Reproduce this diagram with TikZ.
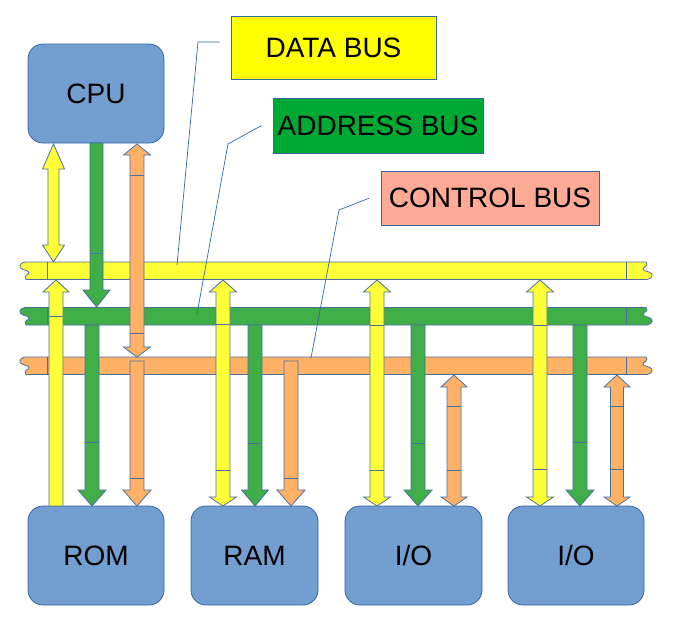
\documentclass[tikz,border=0pt]{standalone}
\usepackage{fontspec}
\setmainfont{Liberation Sans}
\definecolor{boxfill}{HTML}{729FCF}
\definecolor{boxedge}{HTML}{3465A4}
\definecolor{edge}{HTML}{4A6FA5}
\definecolor{ybus}{HTML}{FFFF38}
\definecolor{gbus}{HTML}{3FAE46}
\definecolor{obus}{HTML}{FFB166}
\definecolor{lblY}{HTML}{FFFF00}
\definecolor{lblG}{HTML}{00A933}
\definecolor{lblO}{HTML}{FFAA95}
\newcommand\bigtext{\fontsize{28}{32}\selectfont}
% single block arrow: colour, cx, shaft half, head half, flat end y, head base y, tip y
\newcommand\onearr[7]{%
  \filldraw[fill=#1,draw=edge,line width=0.8pt,line join=miter]
    (#2-#3,#5) -- (#2+#3,#5) -- (#2+#3,#6) -- (#2+#4,#6) -- (#2,#7)
    -- (#2-#4,#6) -- (#2-#3,#6) -- cycle;}
% double block arrow: colour, cx, shaft half, head half, tip1, base1, base2, tip2
\newcommand\twoarr[8]{%
  \filldraw[fill=#1,draw=edge,line width=0.8pt,line join=miter]
    (#2,#5) -- (#2+#4,#6) -- (#2+#3,#6) -- (#2+#3,#7) -- (#2+#4,#7) -- (#2,#8)
    -- (#2-#4,#7) -- (#2-#3,#7) -- (#2-#3,#6) -- (#2-#4,#6) -- cycle;}
% division line across a shaft: cx, half, y
\newcommand\cutline[3]{\draw[edge,line width=0.8pt] (#1-#2,#3) -- (#1+#2,#3);}
% bus: colour, top y
\newcommand\busbar[2]{%
  \begin{scope}[shift={(0,#2)}]
    \filldraw[fill=#1,draw=edge,line width=0.8pt]
      (25,0) -- (646,0)
      .. controls (648,1.5) and (647,3.5) .. (644,5.5)
      .. controls (641,7.5) and (645,9) .. (649,10)
      .. controls (654,11.5) and (653,16.5) .. (647,17.5)
      -- (26,17.5)
      .. controls (24,16) and (25,14) .. (28,12)
      .. controls (31,10) and (27,8.5) .. (23,7.5)
      .. controls (18,6) and (19,1) .. (25,0) -- cycle;
    \draw[edge,line width=0.8pt] (47,0) -- (47,17.5) (626,0) -- (626,17.5);
  \end{scope}}
\tikzset{
  unit/.style={draw=boxedge,fill=boxfill,line width=0.8pt,rounded corners=15pt,
    inner sep=0pt,font=\bigtext},
  label/.style={draw=boxedge,line width=0.8pt,inner sep=0pt,font=\bigtext},
  callout/.style={draw=boxedge,line width=0.7pt}
}
\begin{document}
\begin{tikzpicture}[x=1pt,y=-1pt]
\useasboundingbox (0,0) rectangle (693,629);
% units
\node[unit,minimum width=136pt,minimum height=99pt] (cpu) at (96,93.5) {CPU};
\node[unit,minimum width=136pt,minimum height=99pt] (rom) at (96,555.5) {ROM};
\node[unit,minimum width=127pt,minimum height=99pt] (ram) at (254.5,555.5) {RAM};
\node[unit,minimum width=137pt,minimum height=99pt] (io1) at (413.5,555.5) {I/O};
\node[unit,minimum width=136pt,minimum height=99pt] (io2) at (576,555.5) {I/O};
% labels
\node[label,fill=lblY,minimum width=205pt,minimum height=63pt] (data) at (333.5,47.5) {DATA BUS};
\node[label,fill=lblG,minimum width=210pt,minimum height=55pt] (addr) at (378,125.5) {ADDRESS BUS};
\node[label,fill=lblO,minimum width=218pt,minimum height=54pt] (ctrl) at (490,198) {CONTROL BUS};
% buses
\busbar{ybus}{262}
\busbar{gbus}{307.5}
\busbar{obus}{357}
% CPU arrows
\twoarr{ybus}{53.5}{5.5}{11}{144}{169}{245}{262}
\onearr{gbus}{96.5}{6.5}{13.5}{143}{290}{307}
\cutline{96.5}{6.5}{253}
\twoarr{obus}{137}{7}{13.5}{144}{155}{347}{357}
\cutline{137}{7}{175}
\cutline{137}{7}{333}
% ROM arrows
\onearr{ybus}{56}{7}{13}{506}{292}{280}
\cutline{56}{7}{316}
\onearr{gbus}{92}{7}{14}{325}{490}{506}
\cutline{92}{7}{442}
\onearr{obus}{137}{7}{14}{361}{490}{506}
\cutline{137}{7}{478}
% RAM arrows
\twoarr{ybus}{223}{7}{13.5}{280}{292}{497}{506}
\cutline{223}{7}{324}
\cutline{223}{7}{470}
\onearr{gbus}{255}{7}{13.5}{325}{490}{506}
\cutline{255}{7}{443}
\onearr{obus}{291}{7}{14}{361}{490}{506}
\cutline{291}{7}{478}
% I/O 1 arrows
\twoarr{ybus}{377}{7}{13.5}{280}{292}{497}{506}
\cutline{377}{7}{325}
\cutline{377}{7}{470}
\onearr{gbus}{418}{7}{14}{325}{490}{506}
\cutline{418}{7}{443}
\twoarr{obus}{454}{7}{13}{375}{387}{497}{506}
\cutline{454}{7}{406}
\cutline{454}{7}{470}
% I/O 2 arrows
\twoarr{ybus}{540}{7}{13.5}{280}{292}{497}{506}
\cutline{540}{7}{325}
\cutline{540}{7}{469}
\onearr{gbus}{580}{7}{14}{325}{490}{506}
\cutline{580}{7}{442}
\twoarr{obus}{617}{6.5}{13}{375}{387}{497}{506}
\cutline{617}{6.5}{406}
\cutline{617}{6.5}{469}
% callouts
\coordinate (dEnd) at (177,265);
\coordinate (aEnd) at (197,314);
\coordinate (cEnd) at (311,358);
\draw[callout] ([xshift=-11pt]data.west |- 0,42) -- (198,42) -- (dEnd);
\draw[callout] ([xshift=-11pt]addr.west) -- (228,144) -- (aEnd);
\draw[callout] ([xshift=-11pt]ctrl.west) -- (339,210) -- (cEnd);
\end{tikzpicture}
\end{document}
